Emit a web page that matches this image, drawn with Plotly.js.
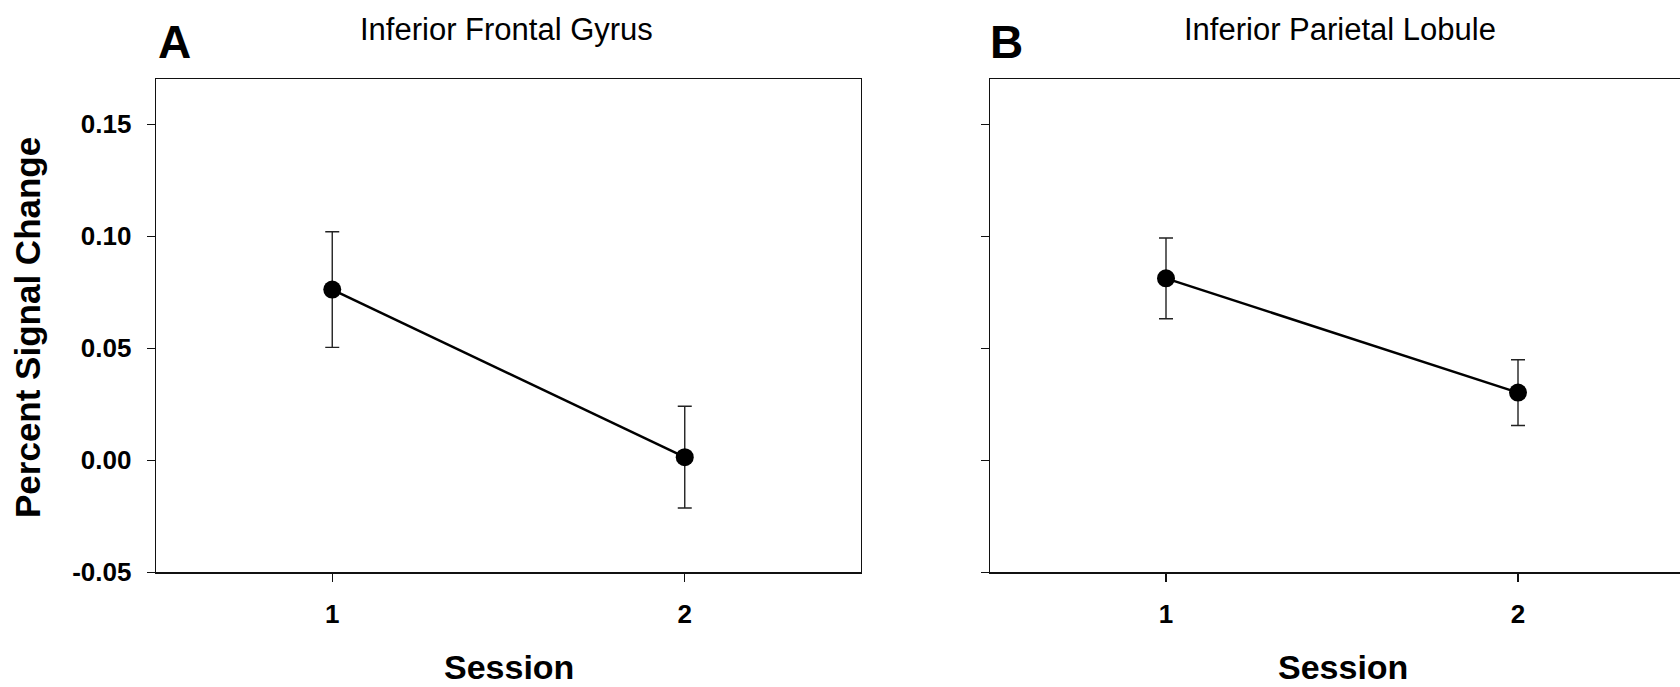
<!DOCTYPE html>
<html>
<head>
<meta charset="utf-8">
<script src="https://cdn.plot.ly/plotly-3.0.1.min.js"></script>
<style>
  html, body { margin: 0; padding: 0; overflow: hidden; background: #fff; }
  #chart { width: 1700px; height: 687px; }
</style>
</head>
<body>
<div id="chart"></div>
<script>
// Session means and standard errors of percent signal change
const sessions = [1, 2];
const sessionTicks = ['1', '2'];
const ifgMean = [0.0762, 0.0014];
const ifgSem = [0.0258, 0.0227];
const iplMean = [0.0812, 0.0302];
const iplSem = [0.0180, 0.0147];
const yTickVals = [-0.05, 0.00, 0.05, 0.10, 0.15];
const yTickText = ['-0.05', '0.00', '0.05', '0.10', '0.15'];

const panelTitles = ['Inferior Frontal Gyrus', 'Inferior Parietal Lobule'];
const panelLetters = ['A', 'B'];
const xTitle = 'Session';
const yTitle = 'Percent Signal Change';

const W = 1700, H = 687;
const px = v => v / W;          // horizontal pixel -> paper
const py = v => 1 - v / H;      // vertical pixel -> paper

const FONT = 'Arial, "Liberation Sans", Helvetica, sans-serif';
const INK = '#111';

function series(mean, sem, xa, ya) {
  return {
    x: sessions, y: mean, xaxis: xa, yaxis: ya,
    type: 'scatter', mode: 'lines+markers',
    line: { color: '#000', width: 2.5 },
    marker: { color: '#000', size: 18 },
    error_y: { type: 'data', array: sem, visible: true, color: '#222', thickness: 1.4, width: 7 },
    hoverinfo: 'x+y', showlegend: false
  };
}

const data = [
  series(ifgMean, ifgSem, 'x', 'y'),
  series(iplMean, iplSem, 'x2', 'y2')
];

function xAxis(domain, anchor) {
  return {
    domain: domain, anchor: anchor, range: [0.5, 2.5],
    tickmode: 'array', tickvals: sessions, ticktext: sessionTicks,
    ticks: 'outside', ticklen: 8, tickwidth: 1.3, tickcolor: INK,
    showline: true, linecolor: INK, linewidth: 1.6, mirror: true,
    showgrid: false, zeroline: false, ticklabelstandoff: 10,
    tickfont: { family: FONT, size: 26, color: '#000', weight: 'bold' },
    fixedrange: true
  };
}
function yAxis(anchor, labels) {
  return {
    domain: [py(572.3), py(79.4)], anchor: anchor, range: [-0.05, 0.17],
    tickmode: 'array', tickvals: yTickVals, ticktext: yTickText,
    showticklabels: labels,
    ticks: 'outside', ticklen: 8, tickwidth: 1.3, tickcolor: INK,
    showline: true, linecolor: INK, linewidth: 1.4, mirror: true,
    showgrid: false, zeroline: false, ticklabelstandoff: 10,
    tickfont: { family: FONT, size: 26, color: '#000', weight: 'bold' },
    fixedrange: true
  };
}

const ann = (text, x, y, size, bold, extra) => Object.assign({
  text: text, xref: 'paper', yref: 'paper', x: x, y: y,
  showarrow: false, xanchor: 'center', yanchor: 'middle',
  font: { family: FONT, size: size, color: '#000', weight: bold ? 'bold' : 'normal' }
}, extra || {});

const layout = {
  width: W, height: H,
  margin: { l: 0, r: 0, t: 0, b: 0 },
  paper_bgcolor: '#fff', plot_bgcolor: '#fff',
  xaxis: xAxis([px(156), px(861)], 'y'),
  yaxis: yAxis('x', true),
  xaxis2: xAxis([px(990), px(1694)], 'y2'),
  yaxis2: yAxis('x2', false),
  annotations: [
    ann(panelLetters[0], px(156), py(42), 46, true, { xanchor: 'left' }),
    ann(panelLetters[1], px(988), py(42), 46, true, { xanchor: 'left' }),
    ann(panelTitles[0], px(506.5), py(30), 31, false),
    ann(panelTitles[1], px(1340), py(30), 31, false),
    ann(yTitle, px(28), py(328), 35, true, { textangle: -90 }),
    ann(xTitle, px(508.5), py(667), 34, true),
    ann(xTitle, px(1343), py(667), 34, true)
  ]
};

Plotly.newPlot('chart', data, layout, { staticPlot: true, displayModeBar: false });
</script>
</body>
</html>
